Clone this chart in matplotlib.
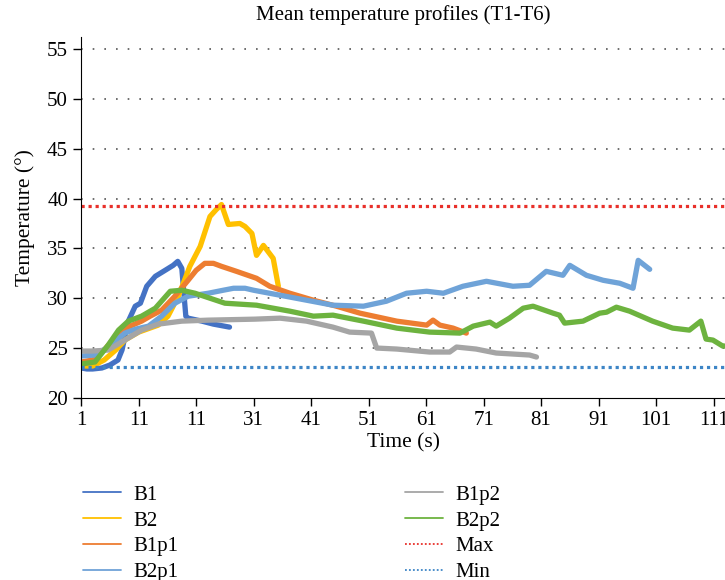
import matplotlib
matplotlib.use("Agg")
import matplotlib.pyplot as plt

plt.rcParams["font.family"] = ["Liberation Serif", "DejaVu Serif"]

# Data
b1_t = [1, 2, 3, 4.6, 6, 7.4, 8.1, 8.6, 9.2, 10.4, 11.3, 12.4, 13.9, 15.6, 17.0, 17.8, 18.5, 19.2, 19.6, 22, 24, 26.8]
b1_v = [23.0, 22.9, 22.9, 23.0, 23.3, 23.8, 24.8, 26.1, 27.7, 29.2, 29.5, 31.2, 32.2, 32.8, 33.3, 33.7, 33.0, 28.2, 28.0, 27.7, 27.4, 27.1]

b2_t = [1, 3, 5, 7, 8.6, 11, 14.4, 16.1, 17.9, 19.9, 21.7, 23.4, 24.5, 25.4, 26.6, 28.6, 29.5, 30.7, 31.5, 32.7, 34.4, 35.3]
b2_v = [23.2, 23.2, 23.8, 24.8, 25.8, 26.6, 27.3, 28.2, 30.2, 33.2, 35.2, 38.2, 38.9, 39.4, 37.4, 37.5, 37.2, 36.5, 34.3, 35.3, 34.0, 31.2]

b1p1_t = [1, 3, 5, 7.5, 9.5, 11.5, 13, 15, 17.3, 19.6, 21, 22.5, 24, 25.4, 28, 31.5, 33.8, 37.3, 41.4, 45.4, 49.5,
          55.9, 61.1, 62.2, 63.4, 65.7, 68]
b1p1_v = [23.6, 23.8, 24.8, 26.5, 27.2, 27.7, 28.2, 28.8, 30.2, 31.8, 32.8, 33.5, 33.5, 33.2, 32.7, 32.0, 31.2, 30.5, 29.8,
          29.2, 28.5, 27.7, 27.3, 27.8, 27.3, 27.0, 26.5]

b2p1_t = [1, 3.4, 5.7, 8.6, 10.5, 12.7, 15, 17.3, 19.6, 23.1, 25.7, 27.5, 29.5, 31, 35.6, 40.2, 44.8, 50.1, 54.1,
          57.6, 61.1, 64, 67.4, 71.5, 76.1, 79, 81.9, 84.8, 86, 88.9, 91.8, 94.7, 97, 97.9, 99.9]
b2p1_v = [24.2, 24.3, 25.1, 26.5, 26.9, 27.2, 28.2, 29.5, 30.2, 30.5, 30.8, 31.0, 31.0, 30.8, 30.3, 29.8, 29.3, 29.2, 29.7,
          30.5, 30.7, 30.5, 31.2, 31.7, 31.2, 31.3, 32.7, 32.3, 33.3, 32.3, 31.8, 31.5, 31.0, 33.8, 32.9]

b1p2_t = [1, 3, 5.7, 8.6, 11.5, 14.4, 18.5, 23.1, 31.2, 35.6, 40.2, 44.8, 47.7, 51.5, 52.4, 55.9, 61.6, 65.1, 66.3,
          69.7, 73.2, 79, 80.2]
b1p2_v = [24.7, 24.7, 24.8, 25.8, 26.8, 27.4, 27.7, 27.8, 27.9, 28.0, 27.7, 27.1, 26.6, 26.5, 25.0, 24.9, 24.6, 24.6, 25.1,
          24.9, 24.5, 24.3, 24.1]

b2p2_t = [1, 3.4, 5.7, 7.5, 9.2, 11.5, 13.9, 16.5, 18.5, 20.8, 26, 31.5, 37.3, 41.4, 44.8, 50.1, 55.9, 61.6, 66.9,
          69.2, 72.1, 73.2, 75.5, 77.9, 79.6, 83.1, 84.2, 85.1, 88.3, 91.2, 92.4, 94.1, 96.4, 100.4, 103.9, 106.8,
          108.8, 109.7, 110.9, 112.6, 113]
b2p2_v = [23.4, 23.6, 25.3, 26.8, 27.7, 28.2, 29.0, 30.7, 30.8, 30.5, 29.5, 29.3, 28.7, 28.2, 28.3, 27.7, 27.0, 26.6, 26.5,
          27.2, 27.6, 27.2, 28.0, 29.0, 29.2, 28.5, 28.3, 27.5, 27.7, 28.5, 28.6, 29.1, 28.7, 27.7, 27.0, 26.8,
          27.7, 25.9, 25.8, 25.2, 25.2]

t_max = 39.3
t_min = 23.1

x_ticks = [1, 11, 21, 31, 41, 51, 61, 71, 81, 91, 101, 111]
x_labels = ["1", "11", "11", "31", "41", "51", "61", "71", "81", "91", "101", "111"]
y_ticks = [20, 25, 30, 35, 40, 45, 50, 55]

series = [
    ("B1", b1_t, b1_v, "#4472C4"),
    ("B2", b2_t, b2_v, "#FFC000"),
    ("B1p1", b1p1_t, b1p1_v, "#ED7D31"),
    ("B2p1", b2p1_t, b2p1_v, "#6FA3D8"),
    ("B1p2", b1p2_t, b1p2_v, "#A5A5A5"),
    ("B2p2", b2p2_t, b2p2_v, "#6DB33F"),
]

fig = plt.figure(figsize=(7.25, 5.8), dpi=100)
ax = fig.add_axes([0.112, 0.314, 0.888, 0.622])

# dotted horizontal grid
for y in y_ticks[1:]:
    ax.axhline(y, color="#555555", lw=1.2, ls=(0, (1, 6)), zorder=0)

for name, t, v, c in series:
    ax.plot(t, v, color=c, lw=3.8, label=name, solid_joinstyle="round", solid_capstyle="round")

ax.axhline(t_max, color="#E8302A", lw=2.3, ls=(0, (1, 1.2)), label="Max")
ax.axhline(t_min, color="#3D85C6", lw=2.3, ls=(0, (1, 1.2)), label="Min")

ax.set_xlim(1, 113)
ax.set_ylim(20, 56.2)
ax.set_xticks(x_ticks)
ax.set_xticklabels(x_labels)
ax.set_yticks(y_ticks)
ax.tick_params(labelsize=15, length=6, width=1, direction="out")
ax.spines["top"].set_visible(False)
ax.spines["right"].set_visible(False)

ax.set_title("Mean temperature profiles (T1-T6)", fontsize=15, pad=12)
ax.set_xlabel("Time (s)", fontsize=15.5, labelpad=2)
ax.set_ylabel("Temperature (°)", fontsize=15.5, labelpad=9)

leg = fig.legend(loc="upper left", bbox_to_anchor=(0.103, 0.178), ncol=2, frameon=False,
                 fontsize=15, handlelength=1.8, handletextpad=0.6, labelspacing=0.3,
                 columnspacing=10.9, borderaxespad=0)
for h in leg.get_lines():
    h.set_linewidth(1.3)

fig.savefig("out.png", dpi=100)
